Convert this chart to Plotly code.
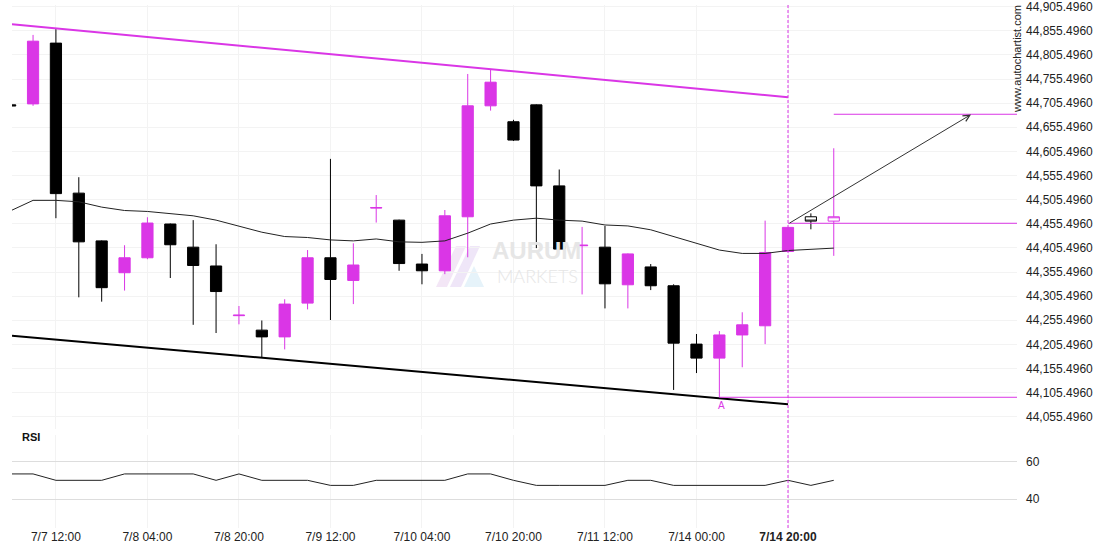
import plotly.graph_objects as go

# ---------------- data ----------------
# candle index (4h candles, weekend gap removed); -1 is the partially visible first candle
idx = list(range(-1, 34))
opens = [44702, 44704, 44830, 44519, 44420, 44354, 44385, 44455, 44407, 44368,
         44265, 44235, 44221, 44291, 44385, 44338, 44488, 44463, 44372, 44358,
         44470, 44700, 44667, 44702, 44534, 44410, 44407, 44329, 44366, 44327,
         44206, 44177, 44225, 44244, 44398]
highs = [44703, 44847, 44859, 44552, 44421, 44411, 44469, 44456, 44463, 44413,
         44285, 44255, 44299, 44401, 44590, 44415, 44515, 44464, 44393, 44484,
         44766, 44776, 44671, 44703, 44568, 44449, 44451, 44394, 44372, 44330,
         44227, 44233, 44272, 44462, 44449]
lows = [44699, 44700, 44467, 44303, 44294, 44317, 44382, 44343, 44246, 44229,
        44247, 44179, 44195, 44278, 44256, 44289, 44458, 44358, 44330, 44351,
        44386, 44690, 44627, 44405, 44401, 44309, 44280, 44280, 44318, 44111,
        44146, 44096, 44158, 44206, 44397]
closes = [44700, 44834, 44518, 44418, 44323, 44385, 44457, 44412, 44369, 44315,
          44266, 44221, 44289, 44385, 44340, 44370, 44489, 44373, 44358, 44472,
          44700, 44749, 44629, 44534, 44403, 44411, 44331, 44393, 44327, 44208,
          44177, 44225, 44246, 44396, 44448]

# forming (hollow) candles
idx_open = [34, 35]
opens_open = [44470, 44461]
highs_open = [44477, 44612]
lows_open = [44444, 44389]
closes_open = [44461, 44470]

# moving average
ma_idx = list(range(-1, 36))
ma_vals = [44482, 44504, 44504, 44501, 44490, 44483, 44481, 44477, 44472, 44463,
           44451, 44438, 44429, 44427, 44422, 44420, 44424, 44418, 44417, 44420,
           44436, 44455, 44463, 44467, 44463, 44461, 44453, 44451, 44443, 44429,
           44414, 44401, 44394, 44394, 44400, 44402, 44405]

# RSI
rsi_vals = [53.5, 53.5, 50.1, 50.1, 50.1, 53.5, 53.5, 53.5, 53.5, 50.1,
            53.5, 50.1, 50.1, 50.1, 47.4, 47.4, 50.1, 50.1, 50.1, 50.1,
            53.5, 53.5, 50.1, 47.4, 47.4, 47.4, 47.4, 50.1, 50.1, 47.4,
            47.4, 47.4, 47.4, 47.4, 50.1, 47.4, 50.1]

# pattern lines
upper_x = [-0.92, 33]
upper_y = [44869, 44718]
lower_x = [-0.92, 33]
lower_y = [44223.5, 44081.3]
pattern_end = 33
target_level = 44682.5
breakout_level = 44456.5
support_level = 44095.8
target_start = 35
support_start = 30
arrow_from = (33, 44455)
arrow_to = (41, 44682)

# axes
tick_idx = [1, 5, 9, 13, 17, 21, 25, 29, 33]
tick_text = ["7/7 12:00", "7/8 04:00", "7/8 20:00", "7/9 12:00", "7/10 04:00",
             "7/10 20:00", "7/11 12:00", "7/14 00:00", "<b>7/14 20:00</b>"]
price_ticks = [44055.496 + 50 * k for k in range(18)]
rsi_ticks = [40, 60]

X_RANGE = [-0.92, 43.01]
Y_RANGE = [44030.8, 44909.0]
Y2_RANGE = [24.73, 74.26]

PINK = "#da36e6"
BLACK = "#000000"
FONT = "Liberation Sans, Arial, sans-serif"

fig = go.Figure()

fig.add_trace(go.Candlestick(
    x=idx, open=opens, high=highs, low=lows, close=closes,
    increasing=dict(line=dict(color=PINK, width=1), fillcolor=PINK),
    decreasing=dict(line=dict(color=BLACK, width=1), fillcolor=BLACK),
    whiskerwidth=0, hoverinfo="skip", name="price"))

fig.add_trace(go.Candlestick(
    x=idx_open, open=opens_open, high=highs_open, low=lows_open, close=closes_open,
    increasing=dict(line=dict(color=PINK, width=1), fillcolor="white"),
    decreasing=dict(line=dict(color=BLACK, width=1), fillcolor="white"),
    whiskerwidth=0, hoverinfo="skip", name="forming"))

fig.add_trace(go.Scatter(x=ma_idx, y=ma_vals, mode="lines",
                         line=dict(color="#222222", width=1), hoverinfo="skip"))

fig.add_trace(go.Scatter(x=upper_x, y=upper_y, mode="lines",
                         line=dict(color=PINK, width=2), hoverinfo="skip"))
fig.add_trace(go.Scatter(x=lower_x, y=lower_y, mode="lines",
                         line=dict(color=BLACK, width=2), hoverinfo="skip"))

fig.add_trace(go.Scatter(x=[target_start, X_RANGE[1]], y=[target_level, target_level], mode="lines",
                         line=dict(color=PINK, width=1), hoverinfo="skip"))
fig.add_trace(go.Scatter(x=[pattern_end, X_RANGE[1]], y=[breakout_level, breakout_level], mode="lines",
                         line=dict(color=PINK, width=1), hoverinfo="skip"))
fig.add_trace(go.Scatter(x=[support_start, X_RANGE[1]], y=[support_level, support_level], mode="lines",
                         line=dict(color=PINK, width=1), hoverinfo="skip"))

fig.add_trace(go.Scatter(x=ma_idx, y=rsi_vals, mode="lines", yaxis="y2",
                         line=dict(color="#222222", width=1), hoverinfo="skip"))

# vertical dashed line at pattern end
fig.add_shape(type="line", xref="x", yref="paper", x0=pattern_end, x1=pattern_end, y0=0, y1=1,
              line=dict(color=PINK, width=1, dash="3px,2px"))

# arrow to target
fig.add_annotation(x=arrow_to[0], y=arrow_to[1], ax=arrow_from[0], ay=arrow_from[1],
                   xref="x", yref="y", axref="x", ayref="y", text="", showarrow=True,
                   arrowhead=5, arrowsize=1.3, arrowwidth=1, arrowcolor="#333333", standoff=0)

# "A" marker
fig.add_annotation(x=support_start, y=support_level, xref="x", yref="y", text="A",
                   showarrow=False, yanchor="top", yshift=-1, xshift=2,
                   font=dict(family=FONT, size=10, color=PINK))

# plot-area pixel helpers for decorations
PL, PR, PT, PB = 12, 1017, 5, 528
def px(x):
    return (x - PL) / (PR - PL)
def py(y):
    return (PB - y) / (PB - PT)

# RSI label
fig.add_annotation(x=px(20), y=py(437), xref="paper", yref="paper", text="<b>RSI</b>",
                   showarrow=False, xanchor="left", yanchor="middle",
                   font=dict(family=FONT, size=11, color="#111111"))

# autochartist credit
fig.add_annotation(x=px(1017), y=py(59), xref="paper", yref="paper", text="www.autochartist.com",
                   showarrow=False, textangle=-90, xanchor="center", yanchor="middle",
                   font=dict(family=FONT, size=11, color="#222222"))

# watermark
fig.add_annotation(x=px(536), y=py(250.5), xref="paper", yref="paper", text="<b>AURUM</b>",
                   showarrow=False, valign="middle",
                   font=dict(family=FONT, size=24, color="#e6e6e6"))
fig.add_annotation(x=px(537), y=py(275.5), xref="paper", yref="paper", text="MARKETS",
                   showarrow=False, valign="middle",
                   font=dict(family="Lato, " + FONT, size=18, color="#e6e6e6", weight=300))
def poly(pts):
    return "M" + " L".join(f"{px(a):.4f},{py(b):.4f}" for a, b in pts) + " Z"
fig.add_shape(type="path", xref="paper", yref="paper", path=poly([(436, 287), (456, 246), (466, 246), (447, 287)]),
              fillcolor="#f3e6f6", line=dict(width=0), layer="below")
fig.add_shape(type="path", xref="paper", yref="paper", path=poly([(450, 287), (470, 246), (480, 246), (461, 287)]),
              fillcolor="#efe6f8", line=dict(width=0), layer="below")
fig.add_shape(type="path", xref="paper", yref="paper", path=poly([(464, 287), (474, 266), (484, 287)]),
              fillcolor="#e6f3fa", line=dict(width=0), layer="below")

fig.update_layout(
    width=1110, height=550,
    margin=dict(l=PL, r=1110 - PR, t=PT, b=550 - PB, autoexpand=False),
    paper_bgcolor="white", plot_bgcolor="white",
    showlegend=False,
    font=dict(family=FONT, size=12, color="#222222"),
    xaxis=dict(range=X_RANGE, tickvals=tick_idx, ticktext=tick_text, showgrid=True,
               gridcolor="#f3f3f3", gridwidth=1, zeroline=False, showline=False, ticks="",
               anchor="y2", rangeslider=dict(visible=False), automargin=False,
               ticklabeloverflow="allow",
               tickfont=dict(family=FONT, size=12, color="#222222")),
    yaxis=dict(domain=[0.19, 1], range=Y_RANGE, side="right", tickvals=price_ticks,
               tickformat=",.4f", showgrid=True, gridcolor="#f3f3f3", zeroline=False,
               showline=False, ticks="", ticklabelstandoff=8, automargin=False,
               ticklabeloverflow="allow",
               tickfont=dict(family=FONT, size=12, color="#222222")),
    yaxis2=dict(domain=[0, 0.178], range=Y2_RANGE, side="right", tickvals=rsi_ticks,
                showgrid=True, gridcolor="#dddddd", zeroline=False, showline=False,
                ticks="", ticklabelstandoff=8, anchor="x", automargin=False,
                ticklabeloverflow="allow",
                tickfont=dict(family=FONT, size=12, color="#222222")),
)

fig.write_html("out.html", config={"displayModeBar": False},
               post_script="document.body.style.margin='0px';")
